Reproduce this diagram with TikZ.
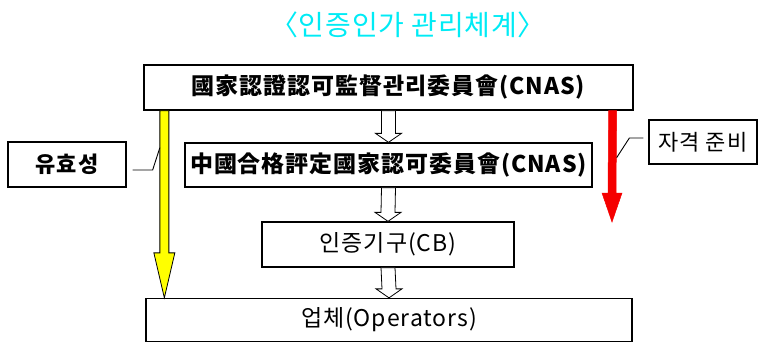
\documentclass[tikz,border=0pt]{standalone}
\usepackage{fontspec}
\newfontfamily\krfont{Noto Sans CJK KR}
\usepackage{tikz}
\usetikzlibrary{calc}
\definecolor{titlecyan}{RGB}{0, 235, 245}
\definecolor{validyellow}{RGB}{255, 255, 0}
\definecolor{prepred}{RGB}{245, 0, 0}

\begin{document}
\begin{tikzpicture}[
   x=1pt, y=-1pt,
   titletext/.style={text=titlecyan, inner sep=0,
                     font=\krfont\fontsize{28}{32}\selectfont\addfontfeature{LetterSpace=3}},
   orgbox/.style={rectangle, draw=black, fill=white, line width=1.3, text=black,
                  inner sep=0, font=\krfont\fontsize{23}{27}\selectfont\addfontfeature{LetterSpace=4}},
   sidebox/.style={rectangle, draw=black, fill=white, line width=1.3, text=black,
                   inner sep=0, font=\krfont\fontsize{22}{26}\selectfont\addfontfeature{LetterSpace=4}},
   hollowarrow/.style={draw=black, fill=white, line width=0.8},
   callout/.style={draw=black, line width=0.9}
  ]

  \useasboundingbox (0, 0) rectangle (760, 343);

  \node (title) at (408, 25) [titletext] {〈인증인가 관리체계〉};

  \node (nas) at (388.5, 87.5) [orgbox, minimum width=489, minimum height=45]
    {\bfseries 國家認證認可監督관리委員會(CNAS)};
  \node (cnas) at (388.5, 165) [orgbox, minimum width=407, minimum height=44]
    {\bfseries 中國合格評定國家認可委員會(CNAS)};
  \node (cb) at (388, 244.5) [orgbox, minimum width=252, minimum height=45]
    {인증기구(CB)};
  \node (op) at (389, 320) [orgbox, minimum width=486, minimum height=43]
    {업체(Operators)};

  \node (valid) at (67, 164.5) [sidebox, minimum width=118, minimum height=45]
    {\bfseries 유효성};
  \node (prep) at (703, 142) [sidebox, minimum width=108, minimum height=44]
    {자격 준비};

  % Hollow arrows between the boxes
  \foreach \B/\E in {nas/cnas, cnas/cb, cb/op} {
    \draw[hollowarrow] ($(\B.south)+(-7,0)$) -- ($(\E.north)+(-7,-9)$)
      -- ($(\E.north)+(-13,-9)$) -- (\E.north) -- ($(\E.north)+(13,-9)$)
      -- ($(\E.north)+(7,-9)$) -- ($(\B.south)+(7,0)$) -- cycle;
  }

  % Side arrows
  \coordinate (ytop) at ($(nas.south west)+(21,0)$);
  \coordinate (ybot) at ($(op.north west)+(19,0)$);
  \coordinate (rtop) at ($(nas.south east)+(-21,0)$);
  \coordinate (rbot) at (612, 222);

  \draw[draw=black, fill=validyellow, line width=0.8]
    ($(ytop)+(-4.5,0)$) -- ($(ybot)+(-4.5,-45)$) -- ($(ybot)+(-10.5,-45)$)
    -- (ybot) -- ($(ybot)+(10.5,-45)$) -- ($(ybot)+(4.5,-45)$)
    -- ($(ytop)+(4.5,0)$) -- cycle;
  \draw[draw=prepred, fill=prepred, line width=0.5]
    ($(rtop)+(-4,0)$) -- ($(rbot)+(-4,-29)$) -- ($(rbot)+(-10,-29)$)
    -- (rbot) -- ($(rbot)+(10,-29)$) -- ($(rbot)+(4,-29)$)
    -- ($(rtop)+(4,0)$) -- cycle;

  \draw[callout] ($(valid.east)+(6,5.5)$) -- ++(20,0) -- ($(ytop)+(-4.5,37)$);
  \draw[callout] ($(prep.west)+(-5,-4)$) -- ++(-14,0) -- ($(rtop)+(4,47)$);

\end{tikzpicture}
\end{document}
